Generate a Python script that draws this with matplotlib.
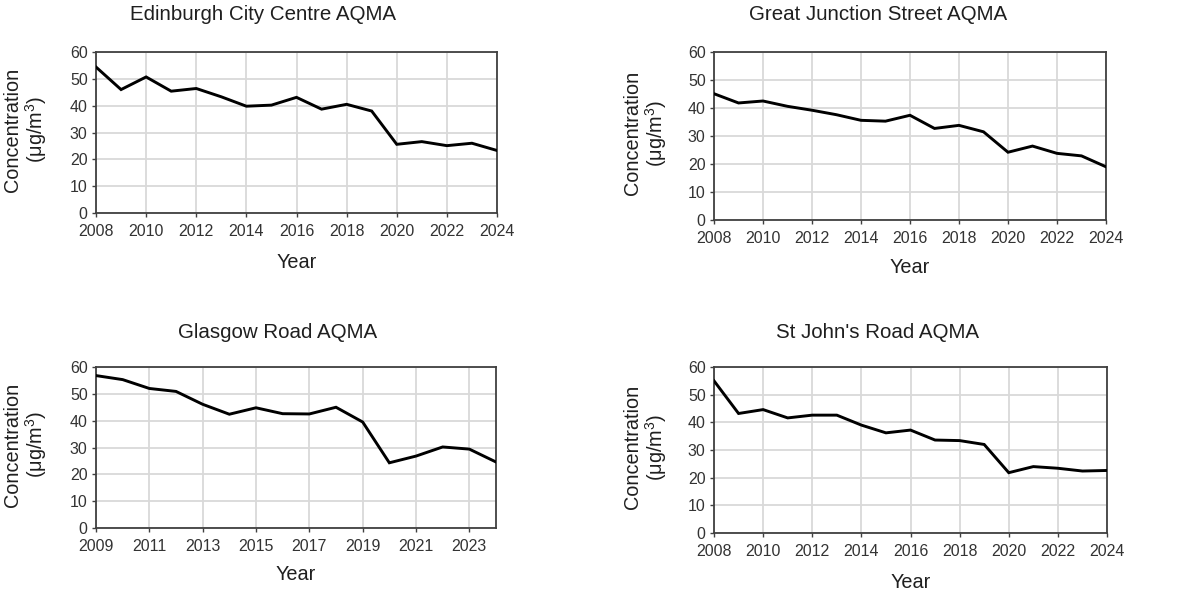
import matplotlib
matplotlib.use("Agg")
import matplotlib.pyplot as plt

plt.rcParams['font.family'] = ['Liberation Sans', 'DejaVu Sans']
plt.rcParams['mathtext.default'] = 'regular'

years_a = list(range(2008, 2025))
years_b = list(range(2009, 2025))

edinburgh = [54.4, 46.0, 50.7, 45.4, 46.4, 43.3, 39.8, 40.2, 43.1, 38.7, 40.5, 38.0,
             25.6, 26.6, 25.1, 26.0, 23.3]
great_junction = [45.1, 41.8, 42.5, 40.6, 39.2, 37.6, 35.6, 35.3, 37.4, 32.7, 33.8, 31.5,
                  24.2, 26.4, 23.8, 22.9, 19.0]
glasgow = [56.8, 55.3, 52.0, 50.9, 46.1, 42.4, 44.8, 42.6, 42.5, 45.0, 39.5,
           24.3, 26.8, 30.2, 29.4, 24.6]
st_johns = [55.0, 43.2, 44.6, 41.6, 42.6, 42.6, 39.0, 36.2, 37.2, 33.6, 33.4, 32.0,
            21.8, 24.0, 23.4, 22.4, 22.6]

titles = ["Edinburgh City Centre AQMA", "Great Junction Street AQMA",
          "Glasgow Road AQMA", "St John's Road AQMA"]
xticks_a = list(range(2008, 2025, 2))
xticks_b = list(range(2009, 2024, 2))
yticks = [0, 10, 20, 30, 40, 50, 60]

W, H = 1192, 592
fig = plt.figure(figsize=(W / 100, H / 100), dpi=100)

# (left, top, right, bottom) in pixels, title x,y, ylabel x, xlabel y
panels = [
    dict(box=(96, 52, 497, 213), tx=263, ty=15, yx=26, xy=262,
         x=years_a, y=edinburgh, ticks=xticks_a, title=titles[0]),
    dict(box=(714, 52, 1106, 220), tx=878, ty=15, yx=646, xy=268,
         x=years_a, y=great_junction, ticks=xticks_a, title=titles[1]),
    dict(box=(96, 367, 496, 528), tx=278, ty=332, yx=26, xy=575,
         x=years_b, y=glasgow, ticks=xticks_b, title=titles[2]),
    dict(box=(714, 367, 1107, 533), tx=878, ty=332, yx=646, xy=582,
         x=years_a, y=st_johns, ticks=xticks_a, title=titles[3]),
]

frame_col = '#404040'
text_col = '#1f1f1f'
tick_col = '#333333'

for p in panels:
    l, t, r, b = p['box']
    ax = fig.add_axes([l / W, 1 - b / H, (r - l) / W, (b - t) / H])
    ax.plot(p['x'], p['y'], color='black', lw=2.1, solid_joinstyle='miter', zorder=3)
    ax.set_xlim(p['x'][0], p['x'][-1])
    ax.set_ylim(0, 60)
    ax.set_xticks(p['ticks'])
    ax.set_yticks(yticks)
    ax.grid(True, color='#d9d9d9', lw=1.3, zorder=0)
    ax.set_axisbelow(True)
    for s in ax.spines.values():
        s.set_color(frame_col)
        s.set_linewidth(1.3)
    ax.tick_params(axis='both', direction='out', length=3, width=1.0, color=frame_col,
                   labelsize=11.5, labelcolor=tick_col, pad=3)
    ax.tick_params(axis='x', pad=5)
    fig.text(p['tx'] / W, 1 - p['ty'] / H, p['title'], ha='center', va='center',
             fontsize=14.8, color=text_col)
    cy = (t + b) / 2 - 3
    fig.text(p['yx'] / W, 1 - cy / H, 'Concentration\n(μg/m$^3$)', rotation=90,
             ha='center', va='center', multialignment='center', fontsize=14.3,
             color=text_col, linespacing=1.1)
    fig.text(((l + r) / 2) / W, 1 - p['xy'] / H, 'Year', ha='center', va='center',
             fontsize=14.3, color=text_col)

fig.savefig('out.png', dpi=100, facecolor='white')
